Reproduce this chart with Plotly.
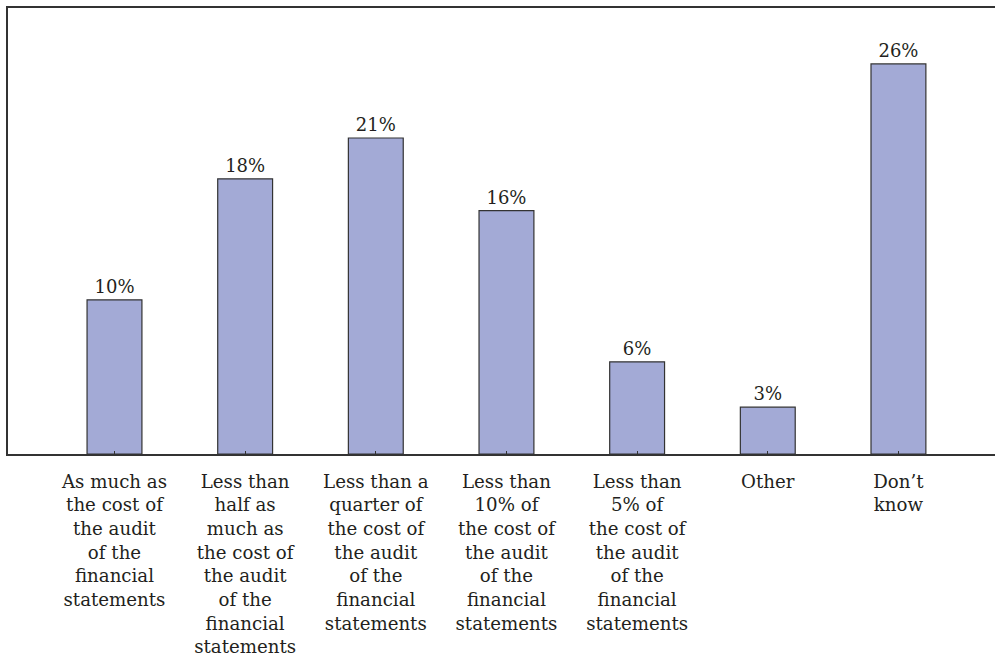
import plotly.graph_objects as go

categories = [
    "As much as<br>the cost of<br>the audit<br>of the<br>financial<br>statements",
    "Less than<br>half as<br>much as<br>the cost of<br>the audit<br>of the<br>financial<br>statements",
    "Less than a<br>quarter of<br>the cost of<br>the audit<br>of the<br>financial<br>statements",
    "Less than<br>10% of<br>the cost of<br>the audit<br>of the<br>financial<br>statements",
    "Less than<br>5% of<br>the cost of<br>the audit<br>of the<br>financial<br>statements",
    "Other",
    "Don’t<br>know",
]
values = [10.2, 18.2, 20.9, 16.1, 6.1, 3.1, 25.8]
value_labels = ["10%", "18%", "21%", "16%", "6%", "3%", "26%"]

FONT = "DejaVu Serif"
INK = "#231f20"

fig = go.Figure(
    go.Bar(
        x=list(range(len(categories))),
        y=values,
        text=value_labels,
        textposition="outside",
        textfont=dict(family=FONT, size=18, color=INK),
        cliponaxis=False,
        width=0.42,
        marker=dict(color="#a3aad6", line=dict(color="#333333", width=1.2)),
        hoverinfo="skip",
    )
)

fig.update_layout(
    width=995,
    height=659,
    margin=dict(l=8, r=0, t=8, b=205),
    paper_bgcolor="white",
    plot_bgcolor="white",
    showlegend=False,
    font=dict(family=FONT, size=18, color=INK),
)

fig.update_xaxes(
    range=[-0.815, 6.739],
    tickmode="array",
    tickvals=list(range(len(categories))),
    ticktext=categories,
    showline=True,
    linecolor="#333333",
    linewidth=1.5,
    mirror=True,
    ticks="inside",
    ticklen=3,
    tickcolor="#333333",
    showgrid=False,
    zeroline=False,
    automargin=False,
    ticklabelstandoff=10,
    tickfont=dict(family=FONT, size=18.2, color=INK),
)
fig.update_yaxes(
    range=[0, 29.5],
    showline=True,
    linecolor="#333333",
    linewidth=1.5,
    showgrid=False,
    zeroline=False,
    automargin=False,
    showticklabels=False,
    ticks="",
)

fig.write_html(
    "out.html",
    config={"displayModeBar": False},
    post_script="document.body.style.margin='0';document.body.style.overflow='hidden';",
)
